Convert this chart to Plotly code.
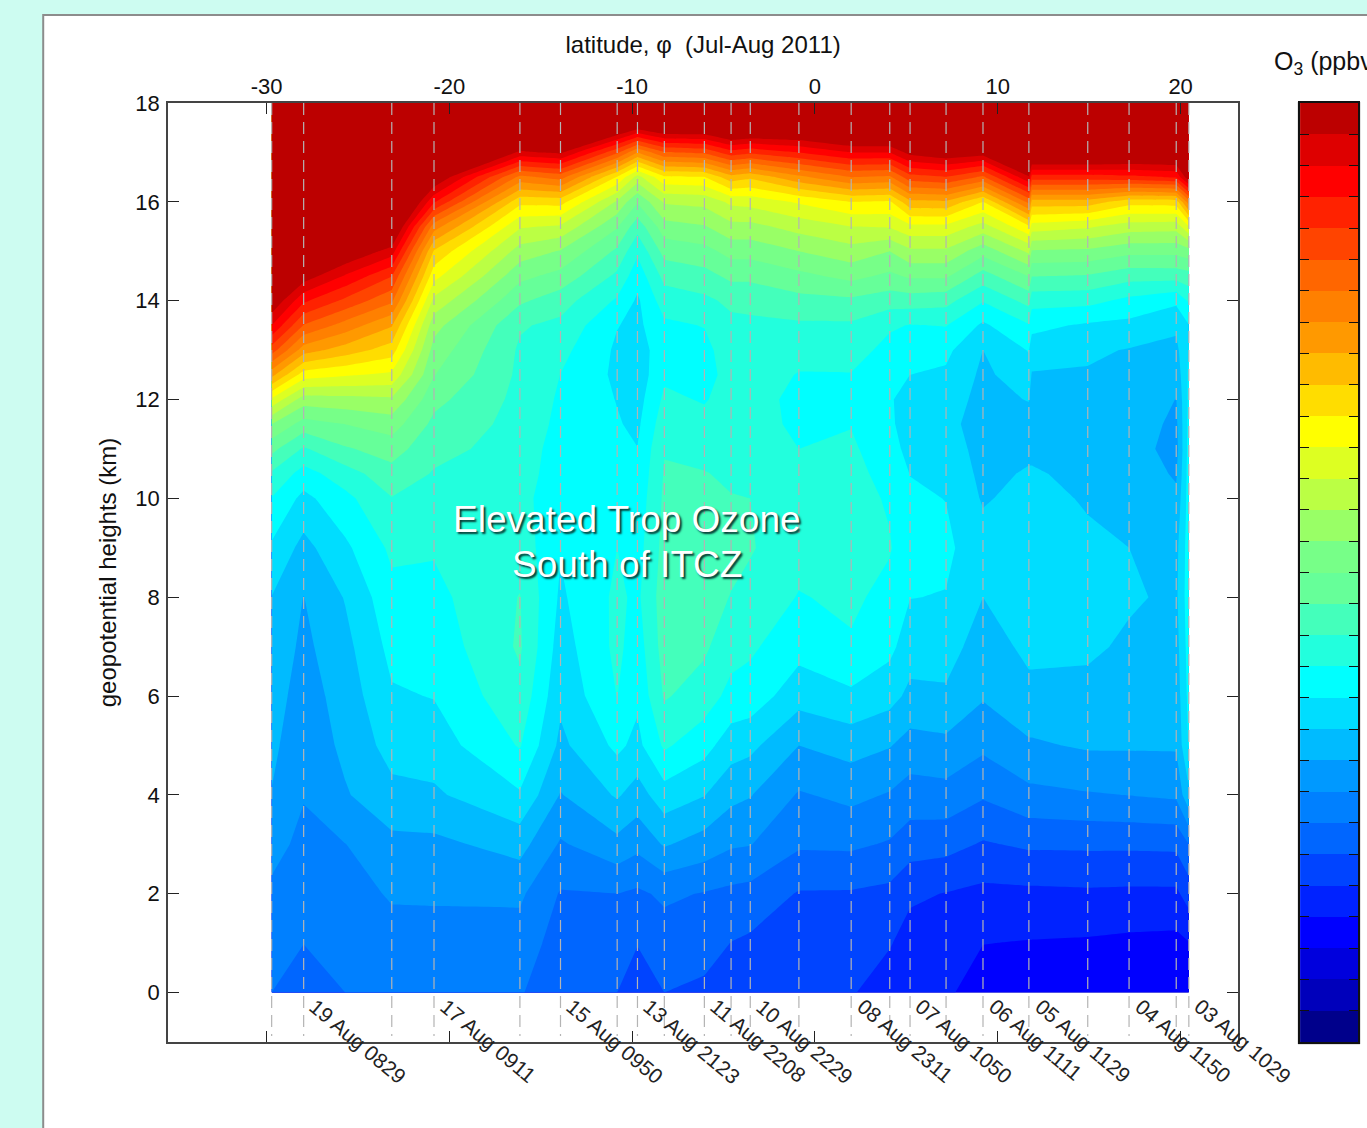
import numpy as np
import plotly.graph_objects as go

# Height rows (km) of the ozone grid
height_km = [0, 1, 2, 3, 4, 5, 6, 7, 8, 9, 10, 10.5, 11, 11.5, 12, 12.5, 13, 13.5,
             14, 14.5, 15, 15.5, 16, 16.5, 17, 17.5, 18]

# Sonde profile latitudes (dashed lines)
profile_lat = [-29.72, -27.97, -23.15, -20.84, -16.14, -13.92, -10.82, -9.71, -8.24, -6.05,
               -4.59, -3.54, -0.88, 1.98, 4.09, 5.2, 7.17, 9.19, 11.70, 14.92, 17.18, 19.76, 20.45]

# Latitudes of the gridded columns
grid_lat = [-29.72, -27.97, -25.7, -23.15, -20.84, -16.14, -13.92, -10.82, -9.71, -8.24, -6.05,
            -4.59, -3.54, -0.88, 1.98, 4.09, 5.2, 7.17, 9.19, 11.70, 11.86, 14.92, 17.18, 19.76, 20.45]

# O3 (ppbv) for each grid column, from the ground up
o3_ppbv = [
 [35,37,39,41.7,44.8,46.2,47.4,48.7,49.9,54.2,59.8,64.3,71.5,80,94,111.7,127.5,140,150,160,168,175,180,185,190,195,200],
 [31,35.1,36.8,38.7,40.3,41.4,42.6,43.8,44.9,48.4,53.6,58,64.3,72.9,82.5,97.5,112.4,124.7,136,148,158,166,173,180,186,192,198],
 [35,36.5,38,39.9,44.5,46.2,47.2,48.5,50.3,54,58.6,62.7,69.4,75,83.3,95.6,107.7,117.9,128.8,139.5,150.8,160,169,176,183,190,196],
 [36,38.2,40.5,43.6,48.6,51.9,54.4,56.5,58.5,61,64.8,68.2,72.2,77.4,84.2,94,102.6,110.4,121,130.2,142.7,155,165,172,180,188,195],
 [36,38.2,40.6,43.8,49.2,52.5,55.2,56.9,58.6,60.5,63.2,64.6,66.5,68.7,71.5,75.2,78,81.9,88.6,96.8,104.5,117.4,135.6,151,163,175,185],
 [35.5,37.7,40.9,46.9,54.4,60.4,63.6,65.7,65.2,63,62,62.4,63,63.3,63.6,64,64.3,65.5,70.9,76.4,82.8,90.6,101.5,118.5,144,160,175],
 [31,32.8,34.6,39.4,44.7,48.8,51.1,52.7,54.2,55.3,56,57.3,57.6,58.7,59.3,59.95,61.5,63.8,67.2,73.4,79.6,89.3,102,122,146,160,175],
 [30,32.5,35,43.5,50.6,56.1,60.1,61.2,61,60,58,57,56.1,55.4,54.8,54,54.2,55.2,59.3,63.9,69,75.5,84.3,99.5,126,153,170],
 [27,30.2,34.1,41.4,47.8,53.6,56,57.5,59,58,56.9,56,55.1,54,53,52,52.9,53.8,54.2,57,60.9,66.9,75.5,88,115,147,165],
 [30,32.6,35.9,45.5,52.8,60.8,65.5,67.2,67.6,66.7,65.9,65.4,64.7,62.9,61,59.1,57.5,59,62.5,66.5,71.8,78,85.7,99,124.5,152,168],
 [29,31.9,34.7,42.9,50.2,56.8,62.7,65.8,67,66.4,65.7,65.2,63.6,61.6,59.6,57.8,58.5,60.2,63.9,68.2,73.3,79.6,86.5,99.7,126,152,168],
 [27,29.9,33.8,40.6,46.4,52.3,58.4,62,64.8,66.5,65.2,64.3,63.6,62.8,62,62.2,62.8,63.7,66.1,71.2,76.8,83.5,91.2,108,133,157,172],
 [26,29.1,33.3,40.2,45.3,51.3,57.9,60.8,63.6,65.4,65,64.2,63.5,63,62.5,62.7,63,64,66.4,71.2,76.8,83.5,91.8,106,131,156,172],
 [26,27.8,29.6,35.7,39.5,45,52,56.8,59.7,62,62.5,61.2,60,58.5,58.3,59.7,61.9,64.2,68.4,73.7,80,87,95.7,113.7,135,155,170],
 [25.5,27.5,29.5,35.9,41.3,47,54,59.4,61,62,62,61.5,60.8,59.8,59.4,59.8,61.9,64.2,69,76.5,83,90,100,120,140,160,175],
 [22,25.4,28.7,34.5,39.6,45.3,51.8,56.3,58.4,60.4,59.4,58.3,57,56,55.4,57,58.6,60.6,67.3,73.9,80,90.5,99.3,119,140,160,175],
 [21,22.8,25.9,32.3,37.8,43,48.8,52.3,55.1,56.9,55.8,54.9,53.4,52.3,53.4,55,57.4,59.8,67.5,75.8,84,93.7,108.8,128,147,165,180],
 [21,23,24.8,31.8,38.2,43.7,49.2,52.2,54.8,56,54.9,53.9,53,52,53.1,54.2,56.2,60.2,66.7,75.8,84,93.7,109.3,129.7,150,168,182],
 [17,20.1,23.7,29.5,35.6,41,45.5,47.5,50,52,49.5,48.7,47.9,47,48,49,50,54.1,60.3,67.8,76.9,88,100,124,148,166,180],
 [16,19.7,23.9,30.8,38.7,44.3,48.6,51.2,53,53.1,51.6,50.5,49,47.2,50.3,52.7,55.3,59.6,66.7,75.2,86,99.1,121.5,144.5,158,170,182],
 [16,19.7,23.9,30.8,38.7,44.3,48.6,51.2,53,53.1,51.6,50.5,49,47,48.4,49.6,52.6,56.3,61.9,70.2,79.4,92.8,107.9,132.6,157,168,180],
 [16,19.4,24.2,30.9,39.6,45.6,48.3,51,52.5,51,49.5,48.8,48,48.3,48.9,49.5,50.9,54.3,61.6,69.6,78.9,90.8,107.9,132.6,157,170,182],
 [15.5,18.9,24,30.9,40.1,45.6,47.4,49.1,50.7,50,48.8,48.1,47.5,48,48.6,49.3,49.7,53.6,58.7,66.9,76.5,87.5,102,133.6,155,170,182],
 [15.5,18.6,24,31.1,40.9,45.6,47,48,49,48.5,46,44.4,43,43.8,44.9,46.7,48.6,51,56,67,76.5,87,102.4,135.5,155,168,180],
 [16,19.8,27.3,35,49,55.5,56.5,57.3,58,57.7,57.3,57.2,57,56.5,56,55.8,55.3,54.8,60.7,68,78,95,118,149,165,175,185],
]

# Contour band edges (ppbv) and band colours, lowest band first
band_edges = [0, 5, 10, 15, 20, 25, 30, 35, 40, 45, 50, 55, 60, 65, 70, 75, 80, 85, 90, 95,
              100, 105, 110, 115, 120, 125, 130, 135, 140, 145, 150]
band_colors = ["#00008b", "#0000bb", "#0000dd", "#0000ff", "#0022ff", "#0044ff", "#0066ff", "#0080ff",
               "#0099ff", "#00bbff", "#00ddff", "#00ffff", "#22ffdd", "#44ffbb", "#66ff99", "#77ff88",
               "#99ff66", "#bbff44", "#ddff22", "#ffff00", "#ffdd00", "#ffbb00", "#ff9900", "#ff8000",
               "#ff6600", "#ff4400", "#ff2200", "#ff0000", "#de0000", "#bc0000"]

# Date labels under the profiles
date_labels = ["19 Aug 0829", "17 Aug 0911", "15 Aug 0950", "13 Aug 2123", "11 Aug 2208", "10 Aug 2229",
               "08 Aug 2311", "07 Aug 1050", "06 Aug 1111", "05 Aug 1129", "04 Aug 1150", "03 Aug 1029"]
date_label_lat = [-27.97, -20.84, -13.92, -9.71, -6.05, -3.54, 1.98, 5.2, 9.19, 11.70, 17.18, 20.45]

lat_ticks = [-30, -20, -10, 0, 10, 20]
lat_tick_text = ["-30", "-20", "-10", "0", "10", "20"]
height_ticks = [0, 2, 4, 6, 8, 10, 12, 14, 16, 18]

W, H = 1367, 1128
L, R, T, B = 168, 1360, 103, 1042
MAIN_R, BAR_L = 1240, 1302
FONT = "Liberation Sans, Arial, sans-serif"
AXC = "#444444"


def px(p):
    return (p - L) / (R - L)


def py(p):
    return (B - p) / (B - T)


colorscale = [[i / (len(band_colors) - 1), c] for i, c in enumerate(band_colors)]

fig = go.Figure()

fig.add_trace(go.Contour(
    x=grid_lat, y=height_km, z=np.array(o3_ppbv).T.tolist(),
    colorscale=colorscale, showscale=False,
    contours=dict(start=5, end=145, size=5, coloring="fill", showlines=False),
    line=dict(width=0, smoothing=0),
    hoverinfo="skip",
))

dash_x, dash_y = [], []
for lat in profile_lat:
    dash_x += [lat, lat, None]
    dash_y += [18, -0.88, None]
fig.add_trace(go.Scatter(
    x=dash_x, y=dash_y, mode="lines",
    line=dict(color="#b4b4b4", width=1.2, dash="12px,7px"),
    hoverinfo="skip", showlegend=False,
))

fig.add_trace(go.Heatmap(
    x=[0, 1], y=band_edges,
    z=[[(a + b) / 2] for a, b in zip(band_edges[:-1], band_edges[1:])],
    colorscale=colorscale, zmin=2.5, zmax=147.5, showscale=False,
    xaxis="x2", yaxis="y2", hoverinfo="skip",
))

annotations = [
    dict(text=t, x=x, y=0.02, xref="x", yref="y", xanchor="left", yanchor="top", xshift=-1,
         textangle=40, showarrow=False, font=dict(family=FONT, size=21, color="#222222"))
    for t, x in zip(date_labels, date_label_lat)
]
trop_font = dict(family=FONT, size=37, color="white", shadow="2px 2px 2px #063a33")
annotations += [
    dict(text="Elevated Trop Ozone", x=-10.26, y=9.57, xref="x", yref="y", showarrow=False, font=trop_font),
    dict(text="South of ITCZ", x=-10.26, y=8.66, xref="x", yref="y", showarrow=False, font=trop_font),
    dict(text="O<sub>3</sub> (ppbv)", x=px(1274), y=py(63), xref="paper", yref="paper",
         xanchor="left", yanchor="middle", showarrow=False,
         font=dict(family=FONT, size=25, color="#111111")),
]

frame = dict(type="rect", xref="paper", yref="paper", x0=px(43), x1=px(1420), y0=py(15), y1=py(1180),
             fillcolor="white", line=dict(color="#8c8c8c", width=2), layer="below")
bar_halo = dict(type="rect", xref="paper", yref="paper", x0=px(BAR_L - 2), x1=px(1362), y0=py(102), y1=py(1044),
                fillcolor="rgba(0,0,0,0)", line=dict(color="#c4c4c4", width=1), layer="below")

fig.update_layout(
    width=W, height=H, autosize=False,
    margin=dict(l=L, r=W - R, t=T, b=H - B, pad=0),
    paper_bgcolor="#cdfcf1", plot_bgcolor="white",
    font=dict(family=FONT, size=22, color="#111111"),
    showlegend=False, shapes=[frame, bar_halo], annotations=annotations,
    xaxis=dict(
        domain=[0, px(MAIN_R)], range=[-35.39, 23.15], side="top", zeroline=False, showgrid=False,
        tickmode="array", tickvals=lat_ticks, ticktext=lat_tick_text, ticks="inside", ticklen=11,
        tickwidth=1.2, tickcolor="#222", ticklabelstandoff=-2,
        mirror="allticks", showline=True, linecolor=AXC, linewidth=1.5, tickfont=dict(size=22),
        title=dict(text="latitude, \u03c6  (Jul-Aug 2011)", standoff=14, font=dict(size=24)),
    ),
    yaxis=dict(
        domain=[0, 1], range=[-1, 18], zeroline=False, showgrid=False,
        tickmode="array", tickvals=height_ticks, ticks="inside", ticklen=11,
        tickwidth=1.2, tickcolor="#222", ticklabelstandoff=2,
        mirror="allticks", showline=True, linecolor=AXC, linewidth=1.5, tickfont=dict(size=22),
        title=dict(text="geopotential heights (km)", standoff=12, font=dict(size=24)),
    ),
    xaxis2=dict(
        domain=[px(BAR_L), 1], range=[0, 1], anchor="y2", showgrid=False, zeroline=False,
        showticklabels=False, ticks="", showline=True, mirror=True, linecolor="#111", linewidth=1.5,
    ),
    yaxis2=dict(
        domain=[0, 1], range=[0, 150], anchor="x2", showgrid=False, zeroline=False,
        tickmode="array", tickvals=band_edges[1:-1], ticks="inside", ticklen=9, tickwidth=1.2, tickcolor="#111",
        showticklabels=False, showline=True, mirror="allticks", linecolor="#111", linewidth=1.5,
    ),
)

fig.write_html(
    "out.html",
    config=dict(displayModeBar=False),
    post_script="document.body.style.margin='0';document.documentElement.style.overflow='hidden';",
)
